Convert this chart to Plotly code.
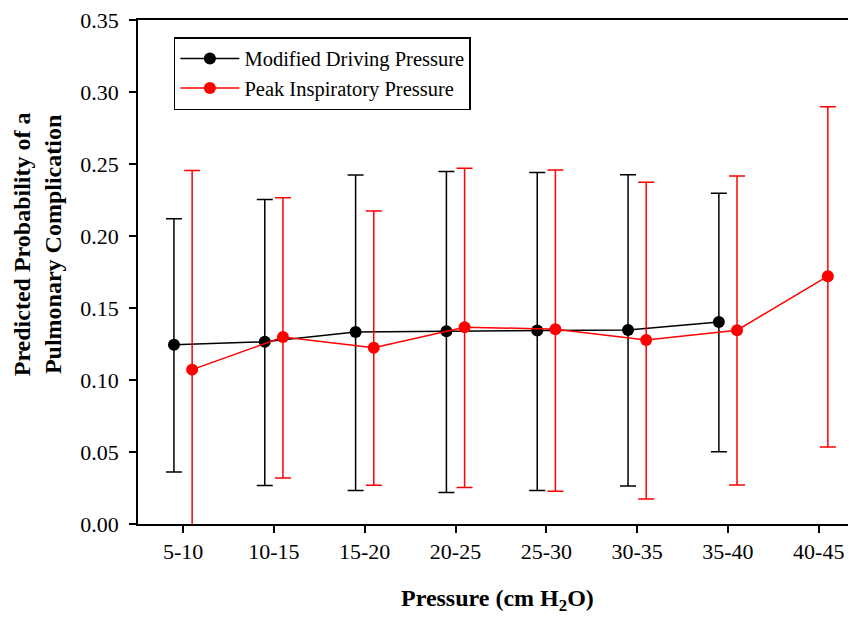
import plotly.graph_objects as go

categories = ["5-10", "10-15", "15-20", "20-25", "25-30", "30-35", "35-40", "40-45"]

mdp_mean  = [0.1245, 0.1265, 0.1334, 0.1339, 0.1344, 0.1348, 0.1403]
mdp_upper = [0.2119, 0.2253, 0.2423, 0.2448, 0.2441, 0.2425, 0.2297]
mdp_lower = [0.0361, 0.0267, 0.0233, 0.0219, 0.0233, 0.0264, 0.0502]

pip_mean  = [0.1072, 0.1298, 0.1224, 0.1367, 0.1353, 0.1277, 0.1346, 0.1721]
pip_upper = [0.2455, 0.2266, 0.2174, 0.2471, 0.2458, 0.2373, 0.2416, 0.2897]
pip_lower = [-0.0100, 0.0320, 0.0269, 0.0253, 0.0228, 0.0173, 0.0271, 0.0534]

y_ticks = [0.00, 0.05, 0.10, 0.15, 0.20, 0.25, 0.30, 0.35]

FONT = "Liberation Serif, Times New Roman, serif"
OFF = 0.1

fig = go.Figure()

def add_series(mean, upper, lower, color, offset, name):
    xs = [i + offset for i in range(len(mean))]
    fig.add_trace(go.Scatter(
        x=xs, y=mean, mode="lines+markers", showlegend=False,
        line=dict(color=color, width=1.5),
        marker=dict(color=color, size=12),
        error_y=dict(type="data", symmetric=False,
                     array=[u - m for u, m in zip(upper, mean)],
                     arrayminus=[m - l for m, l in zip(mean, lower)],
                     color=color, thickness=1.5, width=8),
        cliponaxis=True,
    ))
    fig.add_trace(go.Scatter(
        x=[None], y=[None], mode="lines+markers", name=name,
        line=dict(color=color, width=1.5),
        marker=dict(color=color, size=12),
    ))

add_series(mdp_mean, mdp_upper, mdp_lower, "#000000", -OFF, "Modified Driving Pressure")
add_series(pip_mean, pip_upper, pip_lower, "#ff0000", OFF, "Peak Inspiratory Pressure")

fig.update_layout(
    width=848, height=610,
    margin=dict(l=130, r=0, t=9, b=94),
    paper_bgcolor="white", plot_bgcolor="white",
    font=dict(family=FONT, size=20, color="#000000"),
    showlegend=True,
    legend=dict(x=0.05, y=0.966, xanchor="left", yanchor="top",
                bordercolor="#000000", borderwidth=1.5, bgcolor="white",
                font=dict(family=FONT, size=20.5), tracegroupgap=0,
                itemwidth=59),
    xaxis=dict(
        range=[-0.496, 7.41], tickmode="array",
        tickvals=list(range(len(categories))), ticktext=categories,
        showgrid=False, zeroline=False,
        showline=True, linecolor="#000000", linewidth=1.5, mirror=True,
        ticks="outside", ticklen=7, tickwidth=1.5, tickcolor="#000000",
        tickfont=dict(family=FONT, size=22),
    ),
    yaxis=dict(
        range=[0, 0.35], tickmode="array", tickvals=y_ticks,
        ticktext=[f"{v:.2f}" for v in y_ticks],
        showgrid=False, zeroline=False,
        showline=True, linecolor="#000000", linewidth=1.5,
        ticks="outside", ticklen=7, tickwidth=1.5, tickcolor="#000000",
        tickfont=dict(family=FONT, size=22),
        ticklabeloverflow="allow", ticklabelstandoff=6,
    ),
    annotations=[
        dict(text="<b>Pressure (cm H<sub>2</sub>O)</b>", xref="paper", yref="paper",
             x=0.5, y=-0.15, xanchor="center", yanchor="middle", showarrow=False,
             font=dict(family=FONT, size=24)),
        dict(text="<b>Predicted Probability of a<br>Pulmonary Complication</b>",
             xref="paper", yref="paper", x=-0.14, y=0.556, xanchor="center",
             yanchor="middle", textangle=-90, showarrow=False,
             font=dict(family=FONT, size=24)),
    ],
)

fig.write_html("out.html")
